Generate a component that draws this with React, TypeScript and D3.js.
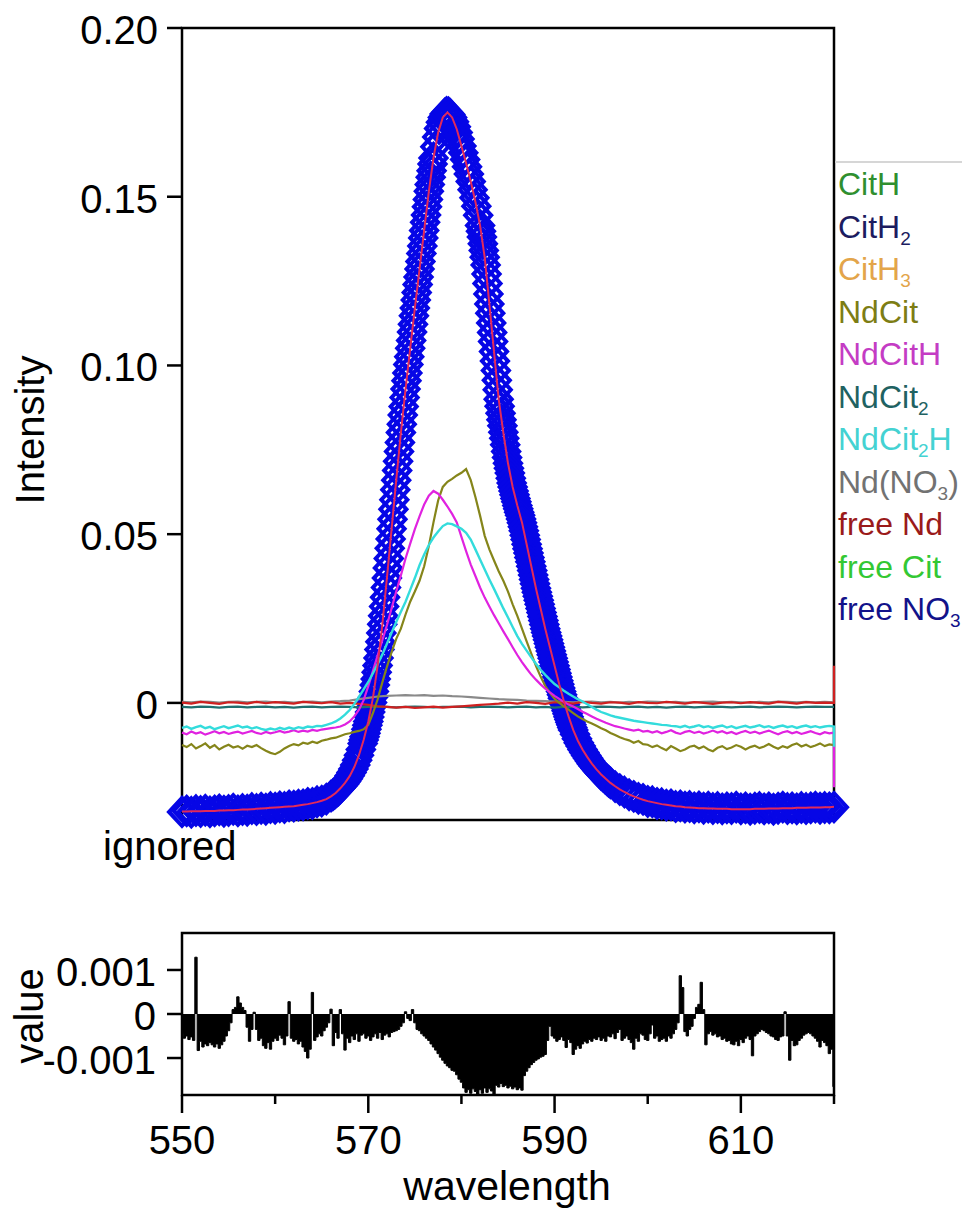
import React from 'react';
import * as d3 from 'd3';

// ---------------- data ----------------
const WL_DOMAIN = [550, 620];
const yTicksMain = [0, 0.05, 0.1, 0.15, 0.2];
const yTickLabelsMain = ['0', '0.05', '0.10', '0.15', '0.20'];
const yTicksResid = [0.001, 0, -0.001];
const yTickLabelsResid = ['0.001', '0', '-0.001'];
const xMajorTicks = [550, 570, 590, 610];
const xMinorTicks = [560, 580, 600, 620];

// measured spectrum (blue diamonds), segments with their own sampling
const measA = { start: 550, step: 0.5, values: [
  -0.0323, -0.0320, -0.0324, -0.0319, -0.0322, -0.0318, -0.0323, -0.0320, -0.0317, -0.0321,
  -0.0319, -0.0315, -0.0320, -0.0316, -0.0318, -0.0313, -0.0316, -0.0312, -0.0315, -0.0310,
  -0.0312, -0.0308, -0.0310, -0.0305, -0.0306, -0.0303, -0.0302, -0.0298, -0.0298, -0.0293,
  -0.0291, -0.0285] };
const measB = { start: 566, step: 0.2, values: [
  -0.0276, -0.0272, -0.0268, -0.0263, -0.0258, -0.0252, -0.0246, -0.0240, -0.0233, -0.0225,
  -0.0216, -0.0206, -0.0196, -0.0184, -0.0170, -0.0155, -0.0138, -0.0120] };
const measC = { start: 569.5, step: 0.1, values: [
  -0.0110, -0.0100, -0.0090, -0.0078, -0.0066, -0.0055, -0.0042, -0.0027, -0.0013, 0.0001,
  0.0017, 0.0034, 0.0053, 0.0071, 0.0091, 0.0111, 0.0133, 0.0158, 0.0181, 0.0207,
  0.0233, 0.0258, 0.0286, 0.0313, 0.0342, 0.0370, 0.0400, 0.0428, 0.0458, 0.0486,
  0.0516, 0.0544, 0.0574, 0.0602, 0.0632, 0.0660, 0.0689, 0.0716, 0.0745, 0.0772,
  0.0801, 0.0826, 0.0853, 0.0878, 0.0905, 0.0930, 0.0955, 0.0978, 0.1003, 0.1026,
  0.1051, 0.1074, 0.1099, 0.1122, 0.1147, 0.1170, 0.1194, 0.1216, 0.1240, 0.1262,
  0.1286, 0.1308, 0.1332, 0.1354, 0.1378, 0.1400, 0.1424, 0.1446, 0.1470, 0.1492,
  0.1516, 0.1536, 0.1558, 0.1577, 0.1597, 0.1615] };
const measD1 = { start: 577.2, step: 0.2, values: [
  0.1648, 0.1677, 0.1702, 0.1721, 0.1735, 0.1745, 0.1750, 0.1749, 0.1744, 0.1735,
  0.1722, 0.1707, 0.1690, 0.1671, 0.1650, 0.1630, 0.1610, 0.1589, 0.1567, 0.1545,
  0.1521, 0.1497, 0.1472, 0.1445] };
const measD2 = { start: 582.0, step: 0.1, values: [
  0.1415, 0.1398, 0.1381, 0.1361, 0.1341, 0.1321, 0.1298, 0.1271, 0.1243, 0.1212,
  0.1182, 0.1155, 0.1126, 0.1098, 0.1071, 0.1041, 0.1013, 0.0985, 0.0956, 0.0928,
  0.0900, 0.0879, 0.0858, 0.0839, 0.0821, 0.0802, 0.0784, 0.0765, 0.0745, 0.0727,
  0.0710, 0.0695, 0.0681, 0.0666, 0.0652, 0.0640, 0.0628, 0.0617, 0.0606, 0.0596,
  0.0585, 0.0575, 0.0565, 0.0556, 0.0545, 0.0534, 0.0522, 0.0510, 0.0497, 0.0484,
  0.0470, 0.0457, 0.0444, 0.0431, 0.0418, 0.0405, 0.0392, 0.0379, 0.0366, 0.0353,
  0.0340, 0.0328, 0.0316, 0.0304, 0.0292, 0.0280, 0.0268, 0.0256, 0.0244, 0.0232,
  0.0220, 0.0209, 0.0198, 0.0187, 0.0176, 0.0165, 0.0154, 0.0143, 0.0132, 0.0121,
  0.0110, 0.0099, 0.0088, 0.0077, 0.0066, 0.0055, 0.0044, 0.0034, 0.0024, 0.0014,
  0.0005, -0.0005, -0.0014, -0.0023, -0.0032, -0.0041, -0.0049, -0.0057, -0.0065, -0.0073,
  -0.0080] };
const measD3 = { start: 592.2, step: 0.2, values: [
  -0.0093, -0.0106, -0.0118, -0.0128, -0.0138, -0.0147, -0.0156, -0.0164, -0.0172, -0.0180,
  -0.0187, -0.0194, -0.0200, -0.0206, -0.0212, -0.0217, -0.0222, -0.0227, -0.0232, -0.0237] };
const measE = { start: 596.5, step: 0.5, values: [
  -0.0248, -0.0257, -0.0264, -0.0272, -0.0277, -0.0283, -0.0286, -0.0292,
  -0.0293, -0.0298, -0.0299, -0.0303, -0.0302, -0.0307, -0.0305, -0.0309, -0.0307, -0.0311,
  -0.0308, -0.0312, -0.0309, -0.0313, -0.0310, -0.0314, -0.0311, -0.0313, -0.0309, -0.0314,
  -0.0311, -0.0315, -0.0312, -0.0310, -0.0314, -0.0311, -0.0315, -0.0312, -0.0309, -0.0313,
  -0.0311, -0.0314, -0.0310, -0.0313, -0.0311, -0.0309, -0.0312, -0.0310, -0.0311, -0.0309] };
const measuredSegments = [measA, measB, measC, measD1, measD2, measD3, measE];

// fitted total (red), 0.5 nm
const fitTotal = [
  -0.0322, -0.0322, -0.0321, -0.0321, -0.0321, -0.0320, -0.0320, -0.0320, -0.0319, -0.0319,
  -0.0318, -0.0318, -0.0317, -0.0316, -0.0316, -0.0315, -0.0314, -0.0313, -0.0312, -0.0311,
  -0.0310, -0.0309, -0.0308, -0.0307, -0.0306, -0.0304, -0.0302, -0.0300, -0.0297, -0.0294,
  -0.0290, -0.0285, -0.0277, -0.0267, -0.0253, -0.0237, -0.0217, -0.0190, -0.0155, -0.0110,
  -0.0055, 0.0015, 0.0110, 0.0230, 0.0370, 0.0515, 0.0660, 0.0800, 0.0930, 0.1050,
  0.1170, 0.1285, 0.1400, 0.1515, 0.1615, 0.1690, 0.1735, 0.1750, 0.1735, 0.1700,
  0.1650, 0.1600, 0.1545, 0.1485, 0.1415, 0.1320, 0.1182, 0.1040, 0.0900, 0.0800,
  0.0710, 0.0640, 0.0585, 0.0535, 0.0470, 0.0405, 0.0340, 0.0280, 0.0220, 0.0165,
  0.0110, 0.0055, 0.0005, -0.0040, -0.0080, -0.0112, -0.0138, -0.0160, -0.0180, -0.0197,
  -0.0212, -0.0225, -0.0237, -0.0247, -0.0256, -0.0264, -0.0271, -0.0277, -0.0282, -0.0287,
  -0.0291, -0.0294, -0.0297, -0.0300, -0.0302, -0.0304, -0.0306, -0.0307, -0.0309, -0.0310,
  -0.0311, -0.0312, -0.0312, -0.0313, -0.0313, -0.0314, -0.0314, -0.0314, -0.0315, -0.0315,
  -0.0315, -0.0315, -0.0315, -0.0314, -0.0314, -0.0314, -0.0313, -0.0313, -0.0313, -0.0312,
  -0.0312, -0.0312, -0.0311, -0.0311, -0.0311, -0.0310, -0.0310, -0.0310, -0.0309, -0.0309,
  -0.0308];

// species, 0.5 nm
const ndCit = [
  -0.0125, -0.0131, -0.0122, -0.0135, -0.0128, -0.0120, -0.0133, -0.0125, -0.0138, -0.0130,
  -0.0124, -0.0132, -0.0128, -0.0136, -0.0127, -0.0131, -0.0125, -0.0134, -0.0142, -0.0148,
  -0.0152, -0.0145, -0.0135, -0.0128, -0.0122, -0.0126, -0.0118, -0.0121, -0.0115, -0.0119,
  -0.0112, -0.0109, -0.0105, -0.0103, -0.0098, -0.0093, -0.0090, -0.0086, -0.0083, -0.0078,
  -0.0065, -0.0030, 0.0010, 0.0060, 0.0107, 0.0150, 0.0190, 0.0220, 0.0262, 0.0300,
  0.0330, 0.0362, 0.0405, 0.0465, 0.0535, 0.0600, 0.0640, 0.0655, 0.0664, 0.0674,
  0.0682, 0.0693, 0.0660, 0.0610, 0.0555, 0.0495, 0.0455, 0.0422, 0.0390, 0.0362,
  0.0330, 0.0292, 0.0258, 0.0220, 0.0182, 0.0146, 0.0110, 0.0078, 0.0050, 0.0030,
  0.0012, 0.0000, -0.0010, -0.0020, -0.0030, -0.0040, -0.0048, -0.0055, -0.0061, -0.0068,
  -0.0075, -0.0081, -0.0089, -0.0095, -0.0102, -0.0107, -0.0111, -0.0118, -0.0113, -0.0122,
  -0.0124, -0.0131, -0.0126, -0.0134, -0.0140, -0.0128, -0.0135, -0.0143, -0.0138, -0.0130,
  -0.0127, -0.0135, -0.0129, -0.0138, -0.0143, -0.0133, -0.0128, -0.0137, -0.0132, -0.0125,
  -0.0130, -0.0138, -0.0131, -0.0127, -0.0134, -0.0129, -0.0122, -0.0130, -0.0136, -0.0128,
  -0.0133, -0.0125, -0.0120, -0.0129, -0.0124, -0.0131, -0.0126, -0.0120, -0.0128, -0.0123,
  -0.0125];
const ndCitH = [
  -0.0088, -0.0093, -0.0085, -0.0091, -0.0087, -0.0094, -0.0089, -0.0084, -0.0090, -0.0086,
  -0.0092, -0.0088, -0.0085, -0.0091, -0.0087, -0.0083, -0.0089, -0.0092, -0.0086, -0.0090,
  -0.0087, -0.0083, -0.0088, -0.0085, -0.0081, -0.0086, -0.0082, -0.0085, -0.0080, -0.0083,
  -0.0079, -0.0077, -0.0075, -0.0073, -0.0070, -0.0064, -0.0055, -0.0040, -0.0020, 0.0008,
  0.0050, 0.0095, 0.0140, 0.0185, 0.0230, 0.0280, 0.0330, 0.0378, 0.0428, 0.0472,
  0.0515, 0.0553, 0.0588, 0.0614, 0.0628, 0.0620, 0.0602, 0.0582, 0.0560, 0.0535,
  0.0492, 0.0450, 0.0410, 0.0376, 0.0342, 0.0312, 0.0286, 0.0260, 0.0236, 0.0212,
  0.0189, 0.0165, 0.0142, 0.0121, 0.0102, 0.0084, 0.0069, 0.0055, 0.0042, 0.0031,
  0.0021, 0.0012, 0.0003, -0.0005, -0.0011, -0.0018, -0.0026, -0.0033, -0.0040, -0.0047,
  -0.0053, -0.0059, -0.0064, -0.0069, -0.0072, -0.0076, -0.0079, -0.0082, -0.0079, -0.0085,
  -0.0083, -0.0088, -0.0084, -0.0090, -0.0086, -0.0081, -0.0088, -0.0092, -0.0086, -0.0083,
  -0.0089, -0.0085, -0.0091, -0.0087, -0.0082, -0.0088, -0.0084, -0.0090, -0.0086, -0.0092,
  -0.0087, -0.0083, -0.0089, -0.0085, -0.0091, -0.0086, -0.0082, -0.0088, -0.0093, -0.0087,
  -0.0084, -0.0090, -0.0086, -0.0092, -0.0088, -0.0084, -0.0089, -0.0093, -0.0087, -0.0090,
  -0.0088];
const ndCit2H = [
  -0.0074, -0.0070, -0.0077, -0.0072, -0.0068, -0.0075, -0.0071, -0.0078, -0.0073, -0.0069,
  -0.0075, -0.0071, -0.0067, -0.0073, -0.0070, -0.0076, -0.0072, -0.0077, -0.0080, -0.0076,
  -0.0079, -0.0074, -0.0078, -0.0073, -0.0077, -0.0072, -0.0075, -0.0070, -0.0072, -0.0068,
  -0.0069, -0.0065, -0.0061, -0.0055, -0.0046, -0.0035, -0.0021, -0.0003, 0.0018, 0.0040,
  0.0062, 0.0088, 0.0115, 0.0143, 0.0175, 0.0208, 0.0240, 0.0270, 0.0300, 0.0335,
  0.0370, 0.0408, 0.0440, 0.0468, 0.0490, 0.0508, 0.0524, 0.0532, 0.0530, 0.0523,
  0.0516, 0.0504, 0.0484, 0.0455, 0.0425, 0.0395, 0.0366, 0.0338, 0.0309, 0.0280,
  0.0253, 0.0225, 0.0198, 0.0175, 0.0155, 0.0135, 0.0116, 0.0098, 0.0083, 0.0069,
  0.0056, 0.0046, 0.0036, 0.0027, 0.0019, 0.0011, 0.0004, -0.0004, -0.0012, -0.0020,
  -0.0027, -0.0032, -0.0037, -0.0041, -0.0044, -0.0047, -0.0050, -0.0053, -0.0055, -0.0057,
  -0.0059, -0.0061, -0.0063, -0.0065, -0.0066, -0.0068, -0.0069, -0.0072, -0.0068, -0.0073,
  -0.0070, -0.0066, -0.0072, -0.0069, -0.0074, -0.0070, -0.0067, -0.0073, -0.0069, -0.0075,
  -0.0071, -0.0068, -0.0073, -0.0070, -0.0066, -0.0072, -0.0069, -0.0074, -0.0070, -0.0067,
  -0.0072, -0.0069, -0.0074, -0.0070, -0.0067, -0.0072, -0.0069, -0.0073, -0.0070, -0.0068,
  -0.0070];

// near-zero species, 1 nm
const ndNO3 = [
  0.0003, 0.0002, 0.0004, 0.0003, 0.0001, 0.0003, 0.0004, 0.0002, 0.0003, 0.0004,
  0.0002, 0.0003, 0.0001, 0.0003, 0.0004, 0.0002, 0.0004, 0.0005, 0.0007, 0.0011,
  0.0015, 0.0019, 0.0021, 0.0022, 0.0023, 0.0022, 0.0023, 0.0021, 0.0022, 0.0020,
  0.0019, 0.0017, 0.0015, 0.0013, 0.0011, 0.0010, 0.0009, 0.0007, 0.0006, 0.0005,
  0.0004, 0.0003, 0.0002, 0.0003, 0.0004, 0.0002, 0.0003, 0.0001, 0.0003, 0.0002,
  0.0004, 0.0003, 0.0002, 0.0003, 0.0001, 0.0002, 0.0003, 0.0004, 0.0002, 0.0003,
  0.0002, 0.0001, 0.0003, 0.0002, 0.0004, 0.0003, 0.0002, 0.0003, 0.0002, 0.0003,
  0.0002];
const freeNd = [
  0.0001, -0.0002, 0.0003, 0.0000, -0.0003, 0.0002, 0.0001, -0.0002, 0.0003, -0.0001,
  0.0002, 0.0000, -0.0002, 0.0003, 0.0001, -0.0001, 0.0002, -0.0002, 0.0000, -0.0003,
  -0.0006, -0.0010, -0.0012, -0.0014, -0.0012, -0.0015, -0.0013, -0.0011, -0.0014, -0.0012,
  -0.0010, -0.0008, -0.0006, -0.0004, -0.0002, 0.0001, -0.0002, 0.0002, 0.0000, -0.0003,
  0.0002, 0.0001, -0.0002, 0.0003, 0.0000, -0.0002, 0.0002, 0.0001, -0.0003, 0.0002,
  0.0000, -0.0001, 0.0003, 0.0001, -0.0002, 0.0002, 0.0000, -0.0003, 0.0001, 0.0002,
  -0.0001, 0.0002, 0.0000, -0.0002, 0.0003, 0.0001, -0.0002, 0.0002, 0.0000, 0.0001,
  0.0000];
const ndCit2 = [
  -0.0012, -0.0013, -0.0011, -0.0012, -0.0014, -0.0012, -0.0011, -0.0013, -0.0012, -0.0011,
  -0.0013, -0.0012, -0.0014, -0.0012, -0.0011, -0.0013, -0.0012, -0.0011, -0.0012, -0.0013,
  -0.0012, -0.0011, -0.0012, -0.0013, -0.0012, -0.0011, -0.0012, -0.0013, -0.0012, -0.0012,
  -0.0011, -0.0013, -0.0012, -0.0011, -0.0012, -0.0013, -0.0012, -0.0011, -0.0013, -0.0012,
  -0.0014, -0.0012, -0.0011, -0.0013, -0.0012, -0.0011, -0.0012, -0.0013, -0.0012, -0.0011,
  -0.0013, -0.0012, -0.0014, -0.0012, -0.0011, -0.0013, -0.0012, -0.0011, -0.0012, -0.0013,
  -0.0012, -0.0011, -0.0013, -0.0012, -0.0011, -0.0012, -0.0013, -0.0012, -0.0011, -0.0012,
  -0.0012];

// last (ignored) point values at 620 nm
const endJumpNdCitH = -0.025;
const endJumpNdCit2H = -0.013;
const endJumpFreeNd = 0.011;

// residual, in units of 0.001, 0.25 nm
const residualMilli = [
  -0.45, -0.55, -0.50, -0.58, -0.52, -0.60, 1.29, -0.83, -0.62, -0.75, -0.68, -0.72, -0.65, -0.70, -0.75, -0.68, -0.78, -0.70, -0.62, -0.50,
  -0.38, -0.20, 0.10, 0.15, 0.39, 0.25, 0.15, 0.08, -0.30, -0.62, -0.35, 0.04, -0.35, -0.60, -0.55, -0.72, -0.78, -0.65, -0.80, -0.62,
  -0.55, -0.60, -0.48, -0.55, -0.70, -0.50, 0.28, -0.55, -0.62, -0.58, -0.68, -0.62, -0.75, -0.85, -1.00, -0.80, 0.49, -0.60, -0.52, -0.45,
  -0.50, -0.38, -0.30, -0.20, 0.11, -0.72, -0.42, -0.55, 0.10, -0.45, -0.82, -0.55, -0.65, -0.50, -0.58, -0.45, -0.62, -0.48, -0.45, -0.55,
  -0.50, -0.60, -0.52, -0.45, -0.55, -0.42, -0.58, -0.48, -0.45, -0.52, -0.42, -0.40, -0.38, -0.35, -0.28, -0.20, 0.05, -0.10, -0.15, 0.10,
  -0.20, -0.35, -0.38, -0.45, -0.50, -0.55, -0.60, -0.68, -0.75, -0.82, -0.90, -0.98, -1.05, -1.12, -1.18, -1.22, -1.28, -1.30, -1.38, -1.48,
  -1.55, -1.68, -1.78, -1.72, -1.80, -1.70, -1.76, -1.82, -1.72, -1.80, -1.68, -1.78, -1.70, -1.75, -1.85, -1.62, -1.66, -1.58, -1.65, -1.62,
  -1.68, -1.64, -1.70, -1.66, -1.72, -1.68, -1.73, -1.40, -1.30, -1.22, -1.15, -1.10, -1.05, -1.02, -0.98, -0.96, -0.92, -0.60, -0.28, -0.50,
  -0.55, -0.62, -0.58, -0.52, -0.60, -0.76, -0.58, -0.65, -0.92, -0.80, -0.72, -0.78, -0.68, -0.62, -0.66, -0.58, -0.62, -0.55, -0.58, -0.52,
  -0.60, -0.55, -0.62, -0.50, -0.52, -0.45, -0.56, -0.42, -0.35, -0.60, -0.55, -0.50, -0.58, -0.65, -0.80, -0.55, -0.62, -0.45, -0.48, -0.58,
  -0.60, -0.45, -0.25, -0.55, -0.50, -0.62, -0.58, -0.55, -0.62, -0.50, -0.55, -0.45, -0.35, -0.20, 0.87, 0.60, -0.40, -0.50, -0.35, -0.28,
  -0.10, 0.15, 0.22, 0.72, 0.10, -0.70, -0.45, -0.40, -0.48, -0.45, -0.52, -0.50, -0.58, -0.55, -0.62, -0.60, -0.68, -0.70, -0.62, -0.72,
  -0.58, -0.65, -0.55, -0.50, -0.58, -0.95, -0.50, -0.45, -0.40, -0.35, -0.38, -0.42, -0.45, -0.50, -0.52, -0.58, -0.60, -0.52, -0.50, 0.05,
  -0.50, -1.05, -0.60, -0.72, -0.70, -0.60, -0.55, -0.48, -0.45, -0.42, -0.45, -0.50, -0.55, -0.62, -0.75, -0.60, -0.65, -0.72, -0.90, -0.80,
  -1.65];

const legendNames = ['CitH', 'CitH_2', 'CitH_3', 'NdCit', 'NdCitH', 'NdCit_2', 'NdCit_2H', 'Nd(NO_3)', 'free Nd', 'free Cit', 'free NO_3'];
const legendColors = ['#2f8f2f', '#1c1c60', '#e3a54a', '#7d7d14', '#c43cc4', '#1f6262', '#44d2d2', '#727272', '#9a1a1a', '#33c833', '#12128a'];

// ---------------- component ----------------
type Pt = { w: number; v: number };
const toPts = (start: number, step: number, vals: number[]): Pt[] =>
  vals.map((v, i) => ({ w: +(start + i * step).toFixed(3), v }));

function legendLabel(name: string) {
  const parts = name.split('_');
  const out: React.ReactNode[] = [<tspan key="p0">{parts[0]}</tspan>];
  for (let i = 1; i < parts.length; i++) {
    out.push(<tspan key={'s' + i} fontSize={19} dy={7}>{parts[i][0]}</tspan>);
    const rest = parts[i].slice(1);
    if (rest) out.push(<tspan key={'r' + i} dy={-7}>{rest}</tspan>);
  }
  return out;
}

export default function App() {
  const x = d3.scaleLinear().domain(WL_DOMAIN).range([182, 834]);
  const y = d3.scaleLinear().domain([-0.0347, 0.2]).range([820, 28]);
  const yr = d3.scaleLinear().domain([-0.00184, 0.00184]).range([1095, 933]);

  const line = d3.line<Pt>().x(d => x(d.w)).y(d => y(d.v));

  const measured: Pt[] = measuredSegments.flatMap(s => toPts(s.start, s.step, s.values));
  const fitPts = toPts(550, 0.5, fitTotal);

  const withEnd = (pts: Pt[], end: number) => [...pts, { w: 620, v: end }];

  const species = [
    { pts: toPts(550, 1, ndCit2), color: '#1f6f6f', w: 2.2 },
    { pts: toPts(550, 1, ndNO3), color: '#8a8a8a', w: 2.2 },
    { pts: withEnd(toPts(550, 1, freeNd), endJumpFreeNd), color: '#cf2020', w: 2.2 },
    { pts: toPts(550, 0.5, ndCit), color: '#85851a', w: 2.2 },
    { pts: withEnd(toPts(550, 0.5, ndCitH), endJumpNdCitH), color: '#e022e0', w: 2.2 },
    { pts: withEnd(toPts(550, 0.5, ndCit2H), endJumpNdCit2H), color: '#33dcdc', w: 2.4 },
  ];

  const resid: Pt[] = residualMilli.map((v, i) => ({ w: 550 + i * 0.25, v: v / 1000 }));
  const residArea = d3.area<Pt>().x(d => x(d.w)).y0(yr(0)).y1(d => yr(d.v)).curve(d3.curveStep);
  const residLine = d3.line<Pt>().x(d => x(d.w)).y(d => yr(d.v)).curve(d3.curveStep);

  const diamond = 'M0,-14L13,0L0,14L-13,0Z';
  const font = "'Liberation Sans', Arial, Helvetica, sans-serif";

  return (
    <svg width={962} height={1215} style={{ position: 'absolute', left: 0, top: 0, background: '#fff' }} fontFamily={font}>
      <rect x={0} y={0} width={962} height={1215} fill="#fff" />

      {/* main frame (drawn under the data) */}
      <rect x={182} y={28} width={652} height={792} fill="none" stroke="#000" strokeWidth={2.5} />
      {yTicksMain.map((t, i) => (
        <g key={i}>
          <line x1={167} x2={182} y1={y(t)} y2={y(t)} stroke="#000" strokeWidth={2.5} />
          <text x={158} y={y(t) + 16} textAnchor="end" fontSize={40} fill="#000">{yTickLabelsMain[i]}</text>
        </g>
      ))}

      {/* measured data: hollow diamonds */}
      <g fill="none" stroke="#0606e6" strokeWidth={4}>
        {measured.map((d, i) => (
          <path key={i} d={diamond} transform={`translate(${x(d.w)},${y(d.v)})`} />
        ))}
      </g>

      {/* species */}
      <g fill="none">
        {species.map((s, i) => (
          <path key={i} d={line(s.pts) || ''} stroke={s.color} strokeWidth={s.w} />
        ))}
      </g>

      {/* fit */}
      <path d={line(fitPts) || ''} fill="none" stroke="#e22a5a" strokeWidth={2} />

      <text transform="translate(44,430) rotate(-90)" textAnchor="middle" fontSize={40} fill="#000">Intensity</text>
      <text x={103} y={860} fontSize={40} fill="#000">ignored</text>

      {/* legend */}
      <line x1={835} x2={962} y1={162} y2={162} stroke="#d6d6d6" strokeWidth={2} />
      {legendNames.map((n, i) => (
        <text key={i} x={838} y={195 + i * 42.5} fontSize={32} fill={legendColors[i]}>{legendLabel(n)}</text>
      ))}

      {/* residual panel */}
      <path d={residArea(resid) || ''} fill="#000" />
      <path d={residLine(resid) || ''} fill="none" stroke="#000" strokeWidth={1} />
      <rect x={182} y={933} width={652} height={162} fill="none" stroke="#000" strokeWidth={2.5} />
      {yTicksResid.map((t, i) => (
        <g key={i}>
          <line x1={167} x2={182} y1={yr(t)} y2={yr(t)} stroke="#000" strokeWidth={2.5} />
          <text x={156} y={yr(t) + 16} textAnchor="end" fontSize={40} fill="#000">{yTickLabelsResid[i]}</text>
        </g>
      ))}
      <text transform="translate(43,1016) rotate(-90)" textAnchor="middle" fontSize={40} fill="#000">value</text>
      {xMajorTicks.map((t, i) => (
        <g key={'M' + i}>
          <line x1={x(t)} x2={x(t)} y1={1095} y2={1113} stroke="#000" strokeWidth={2.5} />
          <text x={x(t)} y={1154} textAnchor="middle" fontSize={40} fill="#000">{t}</text>
        </g>
      ))}
      {xMinorTicks.map((t, i) => (
        <line key={'m' + i} x1={x(t)} x2={x(t)} y1={1095} y2={1104} stroke="#000" strokeWidth={2.5} />
      ))}
      <text x={507} y={1200} textAnchor="middle" fontSize={41} fill="#000">wavelength</text>
    </svg>
  );
}
